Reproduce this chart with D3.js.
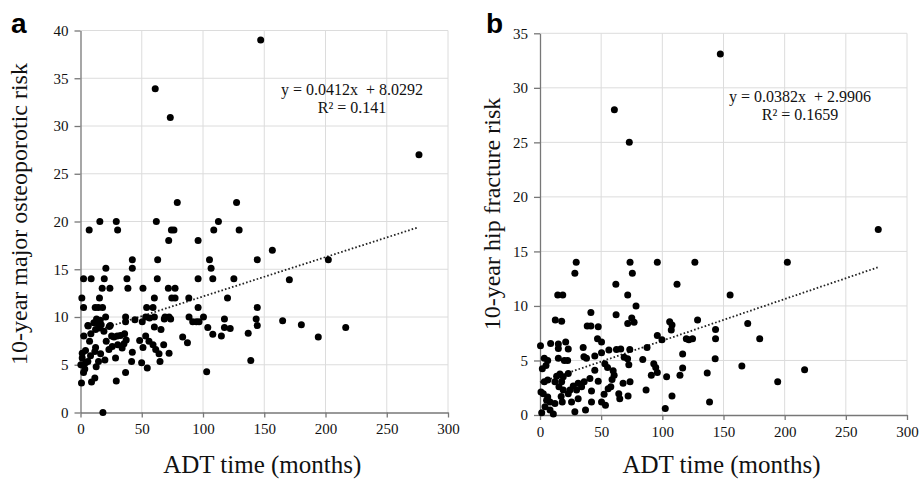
<!DOCTYPE html>
<html><head><meta charset="utf-8">
<script src="https://cdn.jsdelivr.net/npm/d3@7/dist/d3.min.js"></script>
<style>
body{margin:0;background:#fff;}
svg{display:block;}
text{font-family:"Liberation Serif","Times New Roman",serif;fill:#111;}
text.letter{font-family:"Liberation Sans",Arial,sans-serif;font-weight:bold;fill:#000;}
</style></head><body>
<svg id="chart" width="922" height="481"></svg>
<script>
// ---- data ----
const xTicks = [0, 50, 100, 150, 200, 250, 300];
const yTicksA = [0, 5, 10, 15, 20, 25, 30, 35, 40];
const yTicksB = [0, 5, 10, 15, 20, 25, 30, 35];
const xTitle = "ADT time (months)";
const yTitleA = "10-year major osteoporotic risk";
const yTitleB = "10-year hip fracture risk";
const fitA = {slope: 0.0412, intercept: 8.0292, r2: "0.141", xmin: 0, xmax: 276};
const fitB = {slope: 0.0382, intercept: 2.9906, r2: "0.1659", xmin: 0, xmax: 276};

const pointsA = [
[147.1,39],[61,33.9],[73.3,30.9],[276.3,27],
[79,22],[127.4,22],
[15.8,20],[29.2,20],[61.9,20],[112.6,20],
[7.1,19.1],[30.3,19.1],[74.2,19.1],[76.3,19.1],[108.8,19.1],[129.5,19.1],
[72,18],[96,18],[156.6,17],
[42.3,16],[63,16],[105.3,16],[144.3,16],[202.3,16],
[42.3,15.1],[20.7,15.1],[106.6,15.1],
[2.5,14],[8.7,14],[19.4,14],[37.9,14],[62.7,14],[96,14],[108,14],[125.2,14],[170.5,13.9],
[17.7,13],[24,13],[38.7,13],[51,13],[71.7,13],[77.2,13],
[1.1,12],[15.5,12],[60.3,12],[74.5,12],[77.2,12],[88.4,12],[120,12],
[2.5,11],[12,11],[14.5,11],[18,11],[54,11],[59.2,11],[96,11],[144.3,11],
[36.8,10],[53.2,10],[60.3,10],[69,10],[72.3,10],[88.6,10],[100.4,10],[117.5,9.8],[143.4,9.8],[20.5,10],[13.1,9.8],[16.1,9.65],
[165,9.6],[180.3,9.2],[194.1,7.9],[216.5,8.9],
[6.3,9.05],[10.9,9.4],[13.9,9.4],[16.9,9.2],[24.3,9.1],[36.8,9.5],[44.4,9.7],[50.4,9.5],[56.4,9.9],[68.4,9.8],[73.6,9.8],[91.6,9.5],[94.6,9.5],[96.8,9.5],[103.9,8.9],[108,8.2],[115,8.0],[117.5,8.9],[122.2,8.8],[136.9,8.3],[144.3,9.1],[139,5.45],[103,4.27],[83.4,7.9],[87.3,7.3],
[2.7,8],[8.5,8.25],[12.3,8.7],[15.3,8.85],[19.1,8.5],[21,7.45],[23.5,9],[27.3,7.9],[30,8],[32.7,8.05],[36,8.25],[25.9,6.9],[30.4,7.1],[35.5,7.2],[42.3,6.3],[41.7,5.35],[48.3,7.55],[53.2,8],[55.9,7.45],[59.2,7.1],[60.3,8.95],[65.7,8.7],[51,6.8],[64.1,6.15],[67.9,7.1],[72.3,6.2],[64.9,5.35],[49.9,5.2],[54.5,4.65],[61.4,6.6],[36.8,4.2],[29.2,3.3],[18.3,0],
[0.8,3.1],[9,3.2],[11.7,3.6],[2.5,4.2],[3.5,4.55],[0.3,5],[1.4,5.7],[4.1,5.2],[6,5.35],[8.2,5.95],[11.7,6.4],[14.7,5.35],[19.9,5.5],[16.4,6.15],[12.8,4.8],[7.4,7.45],[4.1,6.5],[1.4,6.2],[6,9.1],[12.3,6.8],[23.2,6.6],[28.6,5.7],[34,6.75],[37.3,7.6],[25.4,8]
];

const pointsB = [
[147.4,33.1],[60.8,28],[73,25],[276.5,17],[202.2,14],
[29.6,14],[73.6,14],[95.9,14],[126.6,14],
[28.5,13],[75.5,13],[62,12],[112,12],
[71.7,11],[14.5,11],[18.6,11],[155.4,11],
[78.5,10],[41.6,9.4],[62.2,9.2],[12.5,8.7],[17.7,8.6],[71.7,8.4],[75,8.9],[76.9,8.5],[106,8.55],[107.9,8.25],[107.3,7.8],[128.8,8.7],[169.8,8.4],[38.6,8.15],[41.6,8.15],[47.6,8.1],[143.5,7.85],[143.5,7],[179.6,7],[119.6,7],[121.7,6.9],[124.7,7],[99.7,6.9],[95.9,7.3],[47,7],[50.3,6.7],
[0.4,6.35],[8.7,6.55],[15,6.5],[15,6.1],[21,6.7],[23.1,6.05],[35.3,6.2],[35.9,5.35],[38,5.2],[44.8,5.4],[50.3,5.7],[56.3,5.95],[62.5,6],[66,6.05],[73.4,6],[68.8,5.3],[71.6,5.15],[72.6,4.6],[87.5,6.2],[84,5.1],[116.6,5.6],[143.2,5.15],[93,4.7],[94.6,4.35],[95.9,3.9],[91,3.65],[116.6,4.3],[114.4,3.65],[103.5,3.5],[136.7,3.85],[165,4.5],[86.7,2.3],[107.9,1.75],[102.4,0.6],[138.6,1.2],[194.3,3.06],[216.3,4.15],
[53,4.7],[55.2,4.35],[59.8,4.05],[60.6,3.65],[58.9,3.25],[57.9,2.6],[55.7,2.4],[67.9,2.9],[73.6,3.05],[72,1.75],[64.4,1.95],[65.2,1.5],[52.4,1.9],[50.3,1.2],[53.5,0.9],[42.1,1.2],[42.1,2.2],[47.6,3.1],[40.8,3.35],[44.8,4.1],[37.2,0.45],[28.5,0.3],[25.8,1.2],[31.2,1.5],[23.1,1.95],[27.2,2.65],[31.2,2.9],[34,2.6],[36.1,3.05],[29.9,2.3],[24.5,2.3],[23.1,3.8],[19,3.5],[16.3,3.75],[13.6,3.55],[12.2,3.05],[17.7,3.05],[15.5,2.6],[19,2.3],[17.3,1.7],[18.2,1.2],[12.2,1.05],[8.2,1.2],[6.3,1.65],[2.7,1.95],[0.8,2.1],[4.1,0.75],[8.2,0.45],[1.4,0.2],[10.9,0.1],[5.4,1.35],[3.5,3.05],[6.3,3.2],[4.9,4.55],[1.9,4.25],[6.3,5],[3.5,5.2],[22.6,5],[19.9,5],[15,5.2]
];

// ---- drawing ----
const svg = d3.select("#chart");

function panel(opt) {
  const x = d3.scaleLinear().domain([0, 300]).range([opt.left, opt.right]);
  const y = d3.scaleLinear().domain([0, opt.ymax]).range([opt.bottom, opt.top]);
  const g = svg.append("g");

  // grid
  g.append("g").selectAll("line").data(xTicks.filter(d => d > 0)).join("line")
    .attr("x1", d => x(d)).attr("x2", d => x(d))
    .attr("y1", y(0)).attr("y2", y(opt.ymax))
    .attr("stroke", "#dcdcdc").attr("stroke-width", 1);
  g.append("g").selectAll("line").data(opt.yTicks.filter(d => d > 0)).join("line")
    .attr("x1", x(0)).attr("x2", x(300))
    .attr("y1", d => y(d)).attr("y2", d => y(d))
    .attr("stroke", "#dcdcdc").attr("stroke-width", 1);

  // axes
  const ax = g.append("g").attr("transform", `translate(0,${y(0)})`)
    .call(d3.axisBottom(x).tickValues(xTicks).tickSize(5).tickPadding(6).tickSizeOuter(0));
  const ay = g.append("g").attr("transform", `translate(${x(0)},0)`)
    .call(d3.axisLeft(y).tickValues(opt.yTicks).tickSize(6).tickPadding(6).tickSizeOuter(0));
  [ax, ay].forEach(a => {
    a.select(".domain").attr("stroke", "#777").attr("stroke-width", 1.3);
    a.selectAll(".tick line").attr("stroke", "#777").attr("stroke-width", 1.3);
    a.selectAll(".tick text").attr("font-size", 15).attr("fill", "#111");
  });

  // trend line (dotted)
  g.append("line")
    .attr("x1", x(opt.fit.xmin)).attr("y1", y(opt.fit.intercept + opt.fit.slope * opt.fit.xmin))
    .attr("x2", x(opt.fit.xmax)).attr("y2", y(opt.fit.intercept + opt.fit.slope * opt.fit.xmax))
    .attr("stroke", "#222").attr("stroke-width", 1.8).attr("stroke-dasharray", "1.6,2.1");

  // points
  g.append("g").selectAll("circle").data(opt.points).join("circle")
    .attr("cx", d => x(d[0])).attr("cy", d => y(d[1])).attr("r", 3.5).attr("fill", "#000");

  // equation
  g.append("text").attr("x", opt.eqX).attr("y", opt.eqY).attr("text-anchor", "middle")
    .attr("font-size", 16).style("white-space", "pre")
    .text(`y = ${opt.fit.slope}x  + ${opt.fit.intercept}`);
  g.append("text").attr("x", opt.eqX).attr("y", opt.eqY + 18).attr("text-anchor", "middle")
    .attr("font-size", 16).text(`R² = ${opt.fit.r2}`);

  // titles
  g.append("text").attr("x", (opt.left + opt.right) / 2 - 2).attr("y", 473)
    .attr("text-anchor", "middle").attr("font-size", 25).text(xTitle);
  g.append("text").attr("transform", `translate(${opt.yTitleX},${opt.yTitleY}) rotate(-90)`)
    .attr("text-anchor", "middle").attr("font-size", 24).text(opt.yTitle);

  // panel letter
  g.append("text").attr("class", "letter").attr("x", opt.letterX).attr("y", 33)
    .attr("font-size", 28).text(opt.letter);
}

panel({left: 80.5, right: 448, top: 30.5, bottom: 412.5, ymax: 40, yTicks: yTicksA,
  points: pointsA, fit: fitA, eqX: 352, eqY: 95, yTitle: yTitleA, yTitleX: 27, yTitleY: 214,
  letter: "a", letterX: 11});
panel({left: 540, right: 907, top: 33.3, bottom: 415, ymax: 35, yTicks: yTicksB,
  points: pointsB, fit: fitB, eqX: 800, eqY: 101.5, yTitle: yTitleB, yTitleX: 500, yTitleY: 214,
  letter: "b", letterX: 486});
</script>
</body></html>
